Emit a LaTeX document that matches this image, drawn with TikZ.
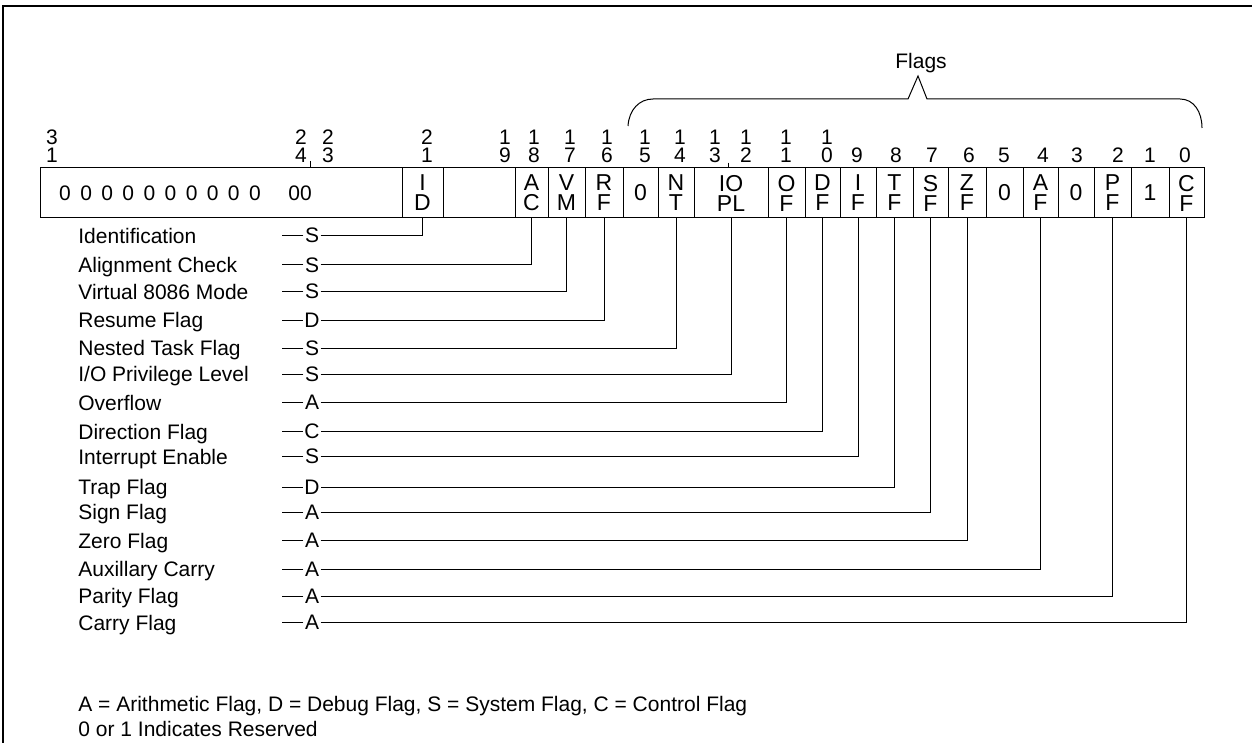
\documentclass[tikz,border=0pt]{standalone}
\usepackage{fontspec}
\setmainfont{Liberation Sans}
\usetikzlibrary{positioning}

\begin{document}
\begin{tikzpicture}[x=0.5pt,y=-0.5pt,node distance=0pt,
  cell/.style={draw,line width=0.5pt,rectangle,minimum height=25pt,inner sep=0pt,outer sep=0pt,align=center,font=\fontsize{11.5}{10}\selectfont},
  bitno/.style={inner sep=0pt,align=center,font=\fontsize{10.5}{9}\selectfont},
  kind/.style={inner sep=0.6pt,font=\fontsize{10.5}{12}\selectfont},
  flagname/.style={anchor=base west,inner sep=0pt,font=\fontsize{10.5}{12}\selectfont},
  wire/.style={line width=0.5pt}]
  \useasboundingbox (0,0) rectangle (1252,743);
  \draw[line width=1pt] (3,743) -- (3,6) -- (1252,6);

  % register cells, bit 31 down to bit 0
  \node[cell,minimum width=181pt] (rsv) at (221,193) {};
  \node[cell,minimum width=20.5pt,right=of rsv] (id) {I\\D};
  \node[cell,minimum width=36pt,right=of id] (b19) {};
  \node[cell,minimum width=16.5pt,right=of b19] (ac) {A\\C};
  \node[cell,minimum width=18.5pt,right=of ac] (vm) {V\\M};
  \node[cell,minimum width=19pt,right=of vm] (rf) {R\\F};
  \node[cell,minimum width=17.5pt,right=of rf] (b15) {0};
  \node[cell,minimum width=18pt,right=of b15] (nt) {N\\T};
  \node[cell,minimum width=37pt,right=of nt] (iopl) {IO\\PL};
  \node[cell,minimum width=18.5pt,right=of iopl] (of) {O\\F};
  \node[cell,minimum width=17.5pt,right=of of] (df) {D\\F};
  \node[cell,minimum width=18pt,right=of df] (if) {I\\F};
  \node[cell,minimum width=18.5pt,right=of if] (tf) {T\\F};
  \node[cell,minimum width=17.5pt,right=of tf] (sf) {S\\F};
  \node[cell,minimum width=19pt,right=of sf] (zf) {Z\\F};
  \node[cell,minimum width=18.5pt,right=of zf] (b5) {0};
  \node[cell,minimum width=17.5pt,right=of b5] (af) {A\\F};
  \node[cell,minimum width=18pt,right=of af] (b3) {0};
  \node[cell,minimum width=18.5pt,right=of b3] (pf) {P\\F};
  \node[cell,minimum width=19pt,right=of pf] (b1) {1};
  \node[cell,minimum width=17.5pt,right=of b1] (cf) {C\\F};

  % reserved zeros
  \foreach \i in {0,...,9}
    \node[bitno] (z\i) at (65+21.1*\i,193) {0};
  \node[bitno] (zz) at (300,193) {00};

  % bit numbers
  \foreach \x/\a/\b [count=\i] in {52/3/1, 301/2/4, 328/2/3, 427/2/1, 505/1/9, 534/1/8, 570/1/7,
      607/1/6, 645/1/5, 680/1/4, 715/1/3, 746/1/2, 786/1/1, 827/1/0}
    \node[bitno] (hi\i) at (\x,146) {\a\\\b};
  \foreach \x/\d in {857/9, 896/8, 932/7, 969/6, 1004/5, 1043/4, 1077/3, 1118/2, 1150/1, 1185/0}
    \node[bitno] (lo\d) at (\x,155) {\d};
  \draw[wire] (310,161) -- (310,168);
  \draw[wire] (728.7,162.7) -- (728.7,168);

  % flags brace
  \node[bitno,anchor=base] (flags) at (921,68.3) {Flags};
  \draw[wire] (628,126) .. controls (629,110) and (639,99) .. (653,99) -- (908,99)
    -- (918,76) -- (927,99) -- (1180,99) .. controls (1194,99) and (1202,112) .. (1202,128);

  % flag names and kinds
  \foreach \yy/\k/\tgt/\txt [count=\i] in {
      235.7/S/id/Identification, 265/S/ac/Alignment Check, 291.7/S/vm/Virtual 8086 Mode,
      320/D/rf/Resume Flag, 348.3/S/nt/Nested Task Flag, 374/S/iopl/{I/O Privilege Level},
      402.7/A/of/Overflow, 431.7/C/df/Direction Flag, 456.7/S/if/Interrupt Enable,
      487.3/D/tf/Trap Flag, 512.3/A/sf/Sign Flag, 540.7/A/zf/Zero Flag,
      569.3/A/af/Auxillary Carry, 596/A/pf/Parity Flag, 622.7/A/cf/Carry Flag}{
    \node[flagname] (n\i) at (78,\yy+7.5) {\txt};
    \node[kind] (k\i) at (312,\yy) {\k};
    \draw[wire] (k\i.west) -- ++(-21,0);
    \draw[wire] (k\i.east) -| (\tgt.south);
  }

  \node[flagname] (key) at (78,711) {A = Arithmetic Flag, D = Debug Flag, S = System Flag, C = Control Flag};
  \node[flagname] (note) at (78,736) {0 or 1 Indicates Reserved};
\end{tikzpicture}
\end{document}
